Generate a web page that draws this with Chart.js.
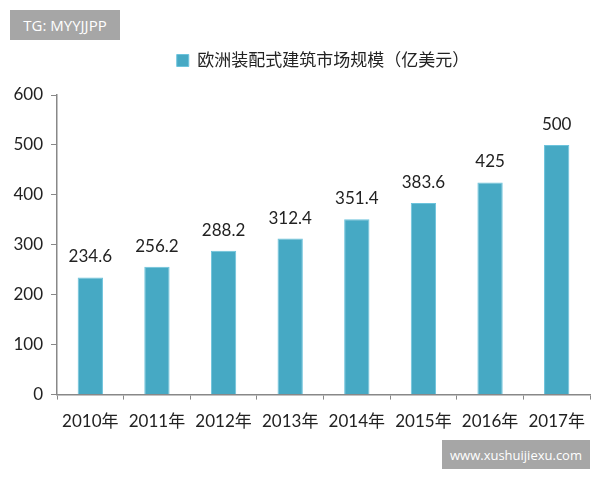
<!DOCTYPE html>
<html>
<head>
<meta charset="utf-8">
<script src="https://cdn.jsdelivr.net/npm/chart.js@4.4.0/dist/chart.umd.min.js"></script>
<style>
  body { margin: 0; background: #fff; }
  #wrap { position: relative; width: 600px; height: 480px; }
  .tag {
    position: absolute; background: #a6a6a6; color: #fff;
    font-family: "Open Sans", sans-serif; font-size: 13px;
    display: flex; align-items: center; justify-content: center;
  }
</style>
</head>
<body>
<div id="wrap">
  <canvas id="chart" width="600" height="480"></canvas>
  <div class="tag" style="left:10px;top:10px;width:110px;height:30px;font-size:15px;">TG: MYYJJPP</div>
  <div class="tag" style="left:442px;top:440px;width:148px;height:29px;">www.xushuijiexu.com</div>
</div>
<script>
const years = ["2010年", "2011年", "2012年", "2013年", "2014年", "2015年", "2016年", "2017年"];
const marketSize = [234.6, 256.2, 288.2, 312.4, 351.4, 383.6, 425, 500];
const seriesName = "欧洲装配式建筑市场规模（亿美元）";
const yTicks = [0, 100, 200, 300, 400, 500, 600];

const fontFamily = "Lato, 'Noto Sans CJK SC', sans-serif";

// value labels above each bar
const barLabels = {
  id: "barLabels",
  afterDatasetsDraw(chart) {
    const ctx = chart.ctx;
    const meta = chart.getDatasetMeta(0);
    ctx.save();
    ctx.font = "17px " + fontFamily;
    ctx.fillStyle = "#222";
    ctx.textAlign = "center";
    ctx.textBaseline = "bottom";
    meta.data.forEach((bar, i) => {
      ctx.fillText(String(marketSize[i]), bar.x, bar.y - 12);
    });
    ctx.restore();
  }
};

// extra room under the legend, and nudge it right
const legendSpace = {
  id: "legendSpace",
  beforeInit(chart) {
    const fit = chart.legend.fit;
    chart.legend.fit = function () {
      fit.bind(chart.legend)();
      this.height += 16;
    };
  },
  afterLayout(chart) {
    chart.legend.left += 28;
    chart.legend.right += 28;
  }
};

const ctx = document.getElementById("chart").getContext("2d");
new Chart(ctx, {
  type: "bar",
  data: {
    labels: years,
    datasets: [{
      label: seriesName,
      data: marketSize,
      backgroundColor: "#46a9c4",
      borderColor: "#6cc3dc",
      borderWidth: 1,
      barPercentage: 0.38,
      categoryPercentage: 1
    }]
  },
  options: {
    responsive: false,
    animation: false,
    layout: { padding: { top: 42, right: 10, bottom: 36, left: 0 } },
    plugins: {
      legend: {
        labels: {
          color: "#222",
          font: { family: fontFamily, size: 17 },
          boxWidth: 12,
          boxHeight: 12,
          padding: 10
        }
      },
      tooltip: { enabled: false }
    },
    scales: {
      x: {
        grid: { drawOnChartArea: false, offset: true, color: "#888", tickLength: 5 },
        border: { color: "#888", width: 1.5 },
        ticks: { color: "#222", font: { family: fontFamily, size: 17 }, padding: 12 }
      },
      y: {
        min: 0,
        max: 600,
        afterBuildTicks: s => { s.ticks = yTicks.map(v => ({ value: v })); },
        afterFit: s => { s.width = 57; },
        grid: { drawOnChartArea: false, color: "#888", tickLength: 6 },
        border: { color: "#888", width: 1.5 },
        ticks: { color: "#222", font: { family: fontFamily, size: 17 }, padding: 8 }
      }
    }
  },
  plugins: [barLabels, legendSpace]
});
</script>
</body>
</html>
